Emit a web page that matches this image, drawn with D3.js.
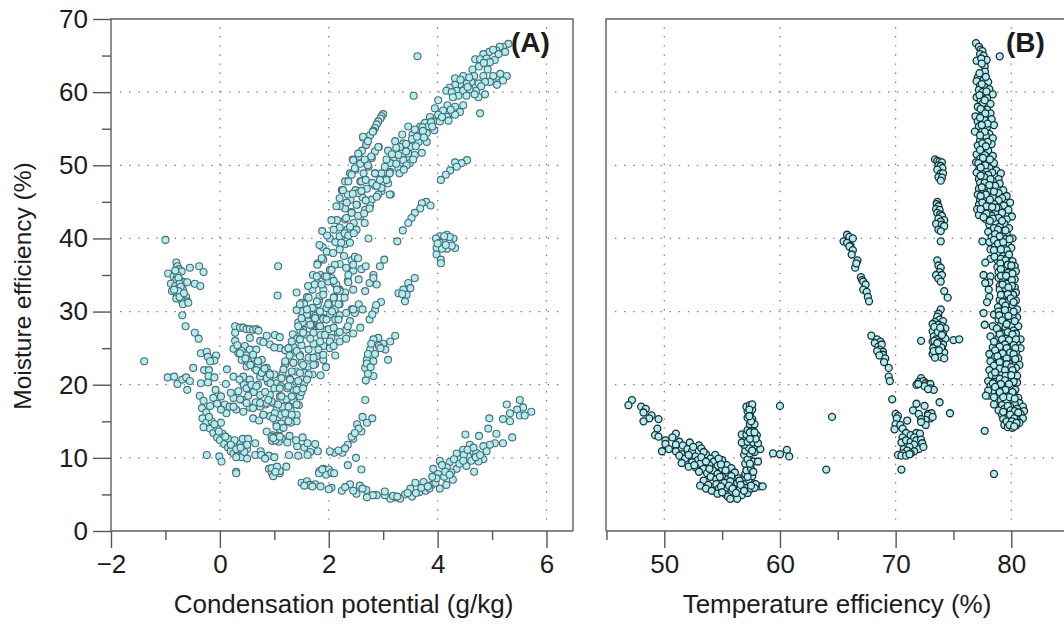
<!DOCTYPE html>
<html lang="en">
<head>
<meta charset="utf-8">
<script src="https://d3js.org/d3.v7.min.js"></script>
<style>
  body { margin: 0; background: #fff; }
  text { font-family: "Liberation Sans", Arial, sans-serif; fill: #1c1c1c; }
</style>
</head>
<body>
<svg width="1064" height="624"></svg>
<script>
// panel A: [condensation potential, moisture efficiency]
const topBandA = [[5.3,66.6],[5.2,66.2],[5.14,66.2],[5.08,65.7],[5.24,65.5],[4.95,65.5],[4.84,65.2],[5.02,65.8],[4.69,64.5],[4.78,64.5],[4.9,64.6],[5.05,64.4],[4.96,64.1],[4.64,63.1],[4.76,63.5],[4.92,63.1],[5.27,62.2],[5.08,62.1],[5.02,62.2],[5.2,61.6],[4.84,62.2],[4.67,62.2],[4.47,62.2],[4.32,61.9],[5.09,61],[4.96,61.4],[4.87,61.4],[4.75,61.2],[4.62,61.4],[4.53,61.2],[4.41,61.1],[4.32,61],[4.22,60.6],[4.16,60.2],[4.35,60.2],[4.47,60.2],[4.59,60.4],[4.71,60.2],[4.87,59.7],[4.75,59.3],[4.53,59.5],[4.38,59.5],[4.26,60],[4.78,57.1],[3.63,64.9],[3.56,59.5],[4.42,61.7],[4.55,60.7],[4.8,60.8],[4.28,59.3],[4.68,59.7],[5.15,62.5],[5.12,65.2],[4.85,64],[4.58,62]];
const midBandA = [[4.01,58.9],[4.18,58.2],[4.32,58],[4.47,58.2],[4.41,57.3],[4.26,57.1],[4.1,57.5],[3.95,57.8],[4.01,56.9],[4.17,56.6],[4.32,56.9],[3.86,56.6],[3.77,55.8],[3.92,56],[4.04,56],[4.2,56.1],[3.68,55.3],[3.83,55.3],[3.94,54.8],[3.46,55.3],[3.54,54.2],[3.68,54.1],[3.8,54.4],[3.35,54.2],[3.22,53.3],[3.65,53.2],[3.8,53.2],[3.37,53],[3.5,52.5],[3.31,52.5],[3.09,52],[3.28,51.4],[3.46,51.6],[3.58,51.4],[3.71,51.7],[3.19,50.7],[3.37,50.7],[3.49,50.3],[3.13,50.3],[3.28,49.6],[3.43,50],[3.3,48.9],[3.03,49.8],[2.97,48.9],[3.13,49.1],[3.6,52.6],[3.88,55.9],[3.72,55.2],[3.58,54.9],[3.24,52.4],[3.42,51.9],[3.53,53.6],[3.73,54.7],[3.9,55.3],[4.08,56.6],[4.24,57.6],[3.62,53.9],[3.42,52.9],[3.16,51.5],[3.24,50.2],[3.38,49.4],[3.06,50.8],[3.75,53.8],[3.55,50.8]];
const strandsA = [[3,57],[2.97,56.7],[2.95,56.4],[2.91,56],[2.88,55.6],[2.85,55.1],[2.82,54.7],[2.76,54.1],[2.63,53.8],[2.69,52.8],[2.61,52],[2.44,50.8],[2.55,51.2],[2.49,49.4],[2.39,48.9],[2.3,47.8],[2.24,46.6],[2.92,52.5],[2.85,51.9],[2.79,51],[2.73,49.8],[2.64,48.9],[2.58,47.8],[2.49,46.6],[2.4,45.3],[2.3,44.1],[2.85,48.9],[3.06,48.2],[3.09,47.5],[3.14,46],[2.97,46.5],[2.85,47.2],[2.91,46],[2.79,45.3],[2.67,43.9],[2.58,43],[2.46,42.1],[2.34,41.2],[2.24,40.3],[2.7,46.8],[2.62,45.6],[2.52,44.6],[2.42,43.6],[2.3,42.6],[2.2,41.5],[2.76,44.5],[2.68,45.2],[2.35,46],[2.2,44.4],[2.15,42.5],[2.09,41.2],[2.02,40],[1.89,38.8],[1.96,38.2],[1.9,37.1],[1.8,36.6],[2.02,35.7],[1.85,35],[1.79,33.9],[1.07,36.2],[1.7,33],[1.9,33],[2.05,34.6],[2.11,33.8],[2.2,38.5],[2.3,39.2],[2.73,40],[2.12,39.5],[2.28,37.6],[2.42,37],[2.2,36.5],[2.32,36],[2.45,35.6],[2.6,35.8],[2.68,36.2],[2.55,34.4],[2.35,34.2],[2.2,33],[2.1,32],[2.3,32.6],[2.45,33],[2.0,31.2],[2.2,31],[2.02,29.6],[1.82,31.5],[1.6,32],[1.41,32.6],[1.06,32.2],[1.83,39.1],[1.88,41],[1.97,40.4],[2.05,42.5],[2.14,44.4],[2.2,45.5],[2.26,46.6],[2.36,47.8],[2.42,48.7],[2.48,49.6],[2.45,50.7],[2.63,53.9],[2.81,54.6],[2.69,52.8],[2.54,51.6],[2.2,40.3],[2.29,40.7],[2.32,42.8],[2.42,43.5],[2.51,44.6],[2.54,46.2],[2.6,47.8],[2.72,50],[2.78,51.2],[2.91,52.5],[2.23,39.4],[2.39,39.4],[2.51,41.2],[2.39,41.6],[2.66,42.1],[2.75,44.1],[2.88,45.7],[2.97,46.9],[3.12,46],[3.06,48],[2.85,48.9],[3.12,48.9],[2.08,38],[1.87,37.3],[1.79,36.4],[1.71,35],[1.74,33.7],[1.62,33.5],[2.48,37.5],[2.54,37.3],[2.11,36.4],[2.45,36.4],[2.05,35.7],[2.36,35],[1.93,34.8],[1.99,34.1],[2.14,33.7],[2.36,34],[2.2,32.8],[2.29,31.9],[1.83,32.1],[2.02,30.7],[2.11,30.3],[2.42,30.3],[2.48,29.8],[2.39,28.7],[2.32,27.5],[2.17,27.1],[1.5,31.2],[1.5,30],[1.44,28.5],[1.62,28.7],[1.8,31],[1.71,29.6],[1.9,29.1],[1.77,28],[1.96,27.5],[1.53,27.5],[1.34,26.9],[2.33,44.9],[2.44,46.1],[2.54,43.1],[2.36,40.4],[2.46,40.7],[2.6,46.5],[2.68,48],[2.8,47.6],[2.65,43.4],[2.88,47.2],[2.94,48],[2.58,50.2],[2.66,50.8],[2.72,53.3]];
const sideClustersA = [[4.54,50.7],[4.44,50.3],[4.32,50.4],[4.35,49.8],[4.23,49.3],[4.15,48.7],[4.06,48],[3.79,45],[3.87,44.5],[3.71,44.8],[3.68,44.1],[3.58,43.5],[3.52,42.8],[3.46,42.1],[3.36,41.1],[3.26,39.6],[4.17,40.5],[4.04,40.3],[3.97,40],[4.29,40],[4.1,39.6],[4.22,39.4],[4.04,39.4],[4.32,38.7],[3.98,38.7],[4.17,38.6],[4.08,38.6],[3.98,37.8],[4.06,37.1],[4.06,36.6],[3.02,37.1],[2.94,36.2],[2.82,35],[3.58,34.6],[3.46,33.9],[3.5,33.2],[3.37,33],[3.28,32.5],[3.43,32.3],[3.35,32.4],[3.4,31.4],[2.88,33.7],[2.75,33.9],[2.82,34.6],[2.67,32.8],[3.22,26.7],[3.13,25.9],[3,25.6],[2.91,26.4],[2.82,26.2],[3.04,24.8],[2.76,24.8],[2.85,24.2],[2.7,23.4],[2.82,23.2],[2.67,22.3],[2.82,21.2],[2.68,20.6],[3.09,23.4],[2.67,17.9],[2.92,25.3],[2.78,25.6],[2.72,24.2],[2.95,25],[2.7,22.9],[2.77,22.4],[2.72,21.5],[4.22,40.2],[4.12,40.3],[4.26,39],[4.15,39.1],[4,39.3]];
const lowerArcA = [[5.72,16.3],[5.51,17.9],[5.57,16.9],[5.27,17.3],[5.33,16.1],[5.46,16.6],[5.51,15.8],[5.6,15.8],[5.2,15.3],[5.33,15],[4.95,15.4],[4.93,14],[5.08,13.3],[5.37,12.8],[4.51,13.2],[4.76,13],[5.2,12],[5.05,12],[4.96,11.8],[4.84,11.6],[4.9,10.9],[4.71,10.7],[4.59,11.8],[4.47,11.1],[4.35,10.6],[4.56,10.2],[4.41,9.8],[4.22,9.4],[4.04,9.6],[3.92,8.5],[4.01,7.8],[4.17,8.7],[4.35,8.5],[4.53,8.9],[4.67,8.1],[4.84,9.8],[4.75,9.5],[4.28,7],[4.16,6.3],[4.04,5.8],[3.89,6.3],[3.74,6.7],[3.59,6.6],[3.5,5.8],[3.53,4.7],[3.66,5.3],[3.78,5.5],[3.4,5],[3.31,4.4],[3.22,4.6],[3.13,4.4],[3.03,4.9],[3.03,5.4],[2.88,4.9],[2.81,4.9],[2.7,4.6],[2.69,5.6],[2.51,5.1],[2.57,6.2],[2.39,6.4],[2.24,5.5],[2.6,8.4],[2.07,7.9],[2.3,6],[2.45,5.5],[2.62,5.8],[3.18,4.8],[3.26,4.7],[3.6,5.2],[3.7,5.9],[3.85,5.8],[3.96,6.6],[4.12,7.4],[4.25,8],[4.4,9.2],[4.62,9.6],[4.7,10.1],[4.48,10.4],[4.3,9.8],[4.14,8.1],[4.08,9],[4.47,9.6],[4.55,11.1],[4.66,11.4],[4.78,10.4],[3.98,7.2],[4.22,7.7],[3.45,5.2],[3.82,6.1],[3.9,7.4]];
const lowLoopsA = [[1.83,8.2],[1.9,8.5],[2,8.4],[1.82,7.9],[1.95,7.7],[2.05,8],[1.88,8.4],[2.1,7.9],[1.5,6.6],[1.6,6.8],[1.75,6.4],[1.85,6.1],[1.65,6.3],[1.55,6.2],[1.7,6.1],[2.05,5.9],[2.0,5.7],[0.3,8.1],[0.9,8.5],[0.95,8],[1.0,8.4],[1.1,7.9],[0.98,7.5],[1.1,8.2],[0.95,8.6],[1.05,8.8],[1.22,8.8],[1.02,8.1],[2.35,9],[2.5,10],[2.1,10.7],[2.25,10.7],[2.35,11.8],[2.45,12.6],[2.6,13.6],[2.7,14.8],[2.8,15.4],[2.62,15.6],[2.52,14.6],[2.42,12.9],[2.18,11],[2.02,10.9],[2.55,14],[2.48,13.4],[2.3,11.3]];
const lowerLeftA = [[-0.37,18.5],[-0.3,17.8],[-0.33,16.8],[-0.25,16.2],[-0.32,15.4],[-0.25,14.8],[-0.3,14.2],[-0.18,14],[-0.12,13.4],[-0.05,12.8],[0,12.4],[0.08,11.9],[0.15,11.4],[0.2,10.9],[0.25,10.6],[0.32,10.3],[0.4,10.1],[0.5,11.2],[0.45,10.8],[0.35,11.9],[0.25,12],[0.15,12.6],[0.05,13.3],[-0.05,14],[-0.15,15],[0.02,14.8],[0.27,12.4],[0.42,12.6],[0.52,12.6],[0.5,11.8],[0.65,12],[0.65,10.4],[0.75,10.9],[0.5,9.9],[0.3,10.1],[-0.24,10.4],[-0.01,10.2],[0.03,9.5],[0.3,7.9],[0.76,10.4],[0.9,10.3],[1.0,10.1],[0.83,9.9],[-0.2,15.6],[-0.1,14.6],[-0.02,13.6],[0.1,12.9],[0.2,11.8],[0.3,11.2],[0.38,11.4]];
const leftBlobA = [[-1,39.8],[-0.8,36.7],[-0.78,36.2],[-0.75,35.8],[-0.7,35.5],[-0.95,35.2],[-0.85,34.8],[-0.8,34.4],[-0.72,34.2],[-0.65,34],[-0.9,33.8],[-0.82,33.5],[-0.75,33.2],[-0.68,33],[-0.88,32.8],[-0.78,32.4],[-0.7,32.2],[-0.62,32],[-0.8,31.8],[-0.7,31.5],[-0.6,31.4],[-0.68,31],[-0.58,31.2],[-0.55,36],[-0.38,36.2],[-0.3,35.4],[-0.6,34],[-0.46,33.8],[-0.36,33.5],[-0.69,29.5],[-0.63,28],[-0.46,27.1],[-0.39,26.3],[-1.39,23.2],[-0.96,21],[-0.84,21.1],[-0.78,20.1],[-0.69,20.7],[-0.62,21],[-0.6,19.3],[-0.55,20.5],[-0.49,22.3],[-0.35,20.2],[-0.35,24.3],[-0.24,24.5],[-0.22,23.8],[-0.07,24],[-0.1,23.3],[-0.29,22],[-0.2,22],[-0.21,21.2],[-0.1,21],[-0.22,20.3],[-0.08,19.3],[-0.18,23.2],[-0.78,35],[-0.76,34.6],[-0.74,33.8],[-0.72,33.4],[-0.76,32.8],[-0.74,32],[-0.84,33],[-0.66,32.5],[-0.82,35.6]];
const centreA = [[0.28,28],[0.37,27.8],[0.43,27.8],[0.49,27.6],[0.55,27.6],[0.61,27.5],[0.67,27.6],[0.71,27.4],[0.28,27.1],[0.55,26.4],[0.28,26],[0.25,24.9],[0.46,25.3],[0.34,24.3],[0.55,24.8],[0.67,24.8],[0.4,23.4],[0.61,23.7],[0.77,23.4],[0.49,22.5],[0.64,22.3],[0.86,22.3],[0.43,21.1],[0.25,21.1],[0.13,22.1],[0.11,20.1],[0.55,20.7],[0.74,21.1],[0.92,21.1],[1.04,20.2],[0.55,19.5],[0.34,19.1],[0.25,18.2],[0.74,18.6],[0.92,18.6],[0.09,17.3],[0.43,17.9],[0.12,16.1],[0.43,16.3],[0.61,15.4],[0.74,17],[0.92,15.7],[1.04,14.7],[1.17,15.2],[1.41,15.9],[1.41,15],[1.23,16.6],[1.47,18.4],[1.29,17.6],[1.04,16.6],[0.86,13.6],[0.32,25.4],[0.4,24.6],[0.48,24],[0.52,23.1],[0.7,22.6],[0.8,21.9],[0.9,21.6],[1,21.4],[0.88,20.4],[0.7,20],[0.62,19],[0.44,20],[0.36,20.7],[0.2,18.9],[0.02,18.4],[-0.12,18.2],[-0.05,17.4],[-0.18,17.1],[0.02,16.6],[0.18,17],[0.3,16.6],[0.55,16.9],[0.66,17.6],[0.84,17.3],[0.98,17.5],[0.8,15.9],[0.72,15.1],[1.12,15.9],[1.3,14.8],[1.1,13.9],[0.97,13.1],[1.06,13],[1.14,12.6],[1.08,12.2],[0.96,12.3],[1.0,12.7],[1.24,12.1],[1.28,13],[1.42,11.6],[1.55,11.4],[1.66,10.8],[1.8,10.9],[1.61,12],[1.75,11.9],[1.4,12.4],[1.52,12.8],[1.61,10.4],[1.27,10.4],[1.44,10.3],[0.74,26],[0.86,26.7],[1.01,26.8],[1.1,26.5],[0.92,25.5],[1.1,25],[1.29,24.3],[1.47,24.1],[1.63,23.7],[1.78,23.9],[2.02,25],[2.2,25.9],[0.8,25.8],[1,25.1],[1.2,24.7],[1.38,24.4],[0.74,17.5],[0.61,16.8],[0.49,17.5],[0.37,18],[0.25,17],[0.86,17.5],[0.95,17.7],[0.8,15.9],[0.67,22],[0.77,21.6],[0.86,20.9],[0.93,20.2],[1,19.5],[0.56,22.7],[0.47,23.6],[0.37,24.3],[0.61,24.1],[0.7,23.2],[0.82,22.2],[0.92,21.4],[0.49,19.5],[0.58,20],[0.67,19.8],[0.52,18.5],[0.83,19],[0.89,17.9],[0.95,12.9],[1.02,12.4],[1.1,12.9]];
const massA = [[1.15,21.5],[1.2,22.8],[1.28,24],[1.35,25.2],[1.42,26.3],[1.48,27.4],[1.52,28.5],[1.6,29.6],[1.41,30.2],[1.55,31],[1.7,30.5],[1.75,29.4],[1.68,28.1],[1.82,28],[1.9,29],[1.96,30.5],[1.85,26.8],[2.0,27.6],[2.12,28.9],[2.2,29.5],[2.32,29.8],[1.6,26.8],[1.72,25.6],[1.5,25.4],[1.35,23],[1.5,23],[1.62,22.5],[1.75,22.8],[1.9,23.4],[1.4,21.8],[1.55,21.6],[1.7,21.4],[1.28,20.8],[1.4,20.4],[1.55,20.2],[1.12,19.8],[1.24,19.5],[1.36,19.2],[1.5,19],[1.1,18.4],[1.22,18],[1.35,17.8],[1.45,17.2],[1.15,17],[1.3,16.5],[1.9,25.3],[2.05,26.4],[2.2,27.2],[2.35,28],[2.45,30.3],[2.55,31],[2.62,30.3],[2.32,26.3],[2.45,27],[2.58,27.8],[2.12,24],[1.95,22.4],[1.85,21.3],[2.75,28.9],[2.85,30.2],[2.96,31.3],[2.87,30.9],[2.8,29.6],[1.78,34.8],[1.96,34.8],[2.09,34.2],[1.87,33.7],[2.15,33],[1.9,32.3],[2.09,31.9],[1.63,31.9],[1.78,31.4],[1.47,31],[1.99,31],[2.18,31],[1.6,30.3],[1.84,30],[2.06,30],[1.5,29.1],[1.75,29.1],[1.96,28.9],[2.18,28.9],[1.44,28],[1.66,28.2],[1.84,28],[2.09,27.8],[1.53,27.1],[1.72,27.1],[1.93,26.8],[1.32,25.9],[1.47,26.2],[1.66,26.3],[1.84,25.9],[2.02,25.9],[1.26,25],[1.41,24.6],[1.63,24.8],[1.81,24.8],[2.09,25.3],[1.47,23.9],[1.72,23.7],[1.9,24.1],[1.2,23.2],[1.35,23],[1.53,22.7],[1.72,22.7],[1.17,22.1],[1.32,21.8],[1.47,21.6],[1.63,21.4],[1.13,20.9],[1.29,20.7],[1.44,20.5],[1.6,20.7],[1.1,19.5],[1.26,19.8],[1.41,19.3],[1.53,19.5],[1.13,18.4],[1.32,18.4],[1.07,17.3],[1.26,17],[1.41,17.3],[1.01,16.1],[1.2,16.1],[1.32,15.9],[0.98,15.4],[1.13,14.7],[1.26,15],[1.04,14.3],[1.17,14.1],[0.98,12.7]];

// panel B: [temperature efficiency, moisture efficiency]
const columnB = [[76.95,66.7],[77.2,66.2],[77.35,65.8],[77.5,65.6],[77.3,65.2],[77.6,65],[77.87,64.4],[79,64.9],[77,64.3],[77.4,64.6],[77.7,63.5],[77.72,62.8],[77.1,62],[77.6,61.6],[77,61.5],[77.3,60.9],[78,61.4],[77.7,60.7],[77.2,60.3],[77.5,60],[78.1,60.4],[78.4,59.7],[77,59.3],[77.9,59.2],[77.35,58.9],[78.2,58.4],[77.55,58.5],[77.1,58],[77.9,57.6],[77.5,57.5],[78.2,57.1],[76.9,56.7],[77.5,56.9],[77.1,56],[77.7,56.2],[78.3,56.3],[78.5,55.5],[77.2,55.3],[77.9,55.2],[76.85,54.6],[77.5,54.7],[78.1,54.3],[77.8,54],[78.4,53.7],[77.3,53.4],[78.3,52.9],[77.1,52.7],[77.6,52.2],[78.0,52],[77,51.5],[77.7,51.4],[78.4,51.3],[77.3,50.9],[77.9,50.7],[78.5,50.3],[76.95,50.4],[77.5,50.2],[78.1,49.6],[77.2,49.4],[78.7,49.3],[77.8,49.2],[78.35,49],[77,49],[77.5,48.8],[79.1,48.9],[78.9,48.1],[77.2,48.1],[77.85,48.1],[78.4,47.8],[79,47.5],[77.3,47.6],[78.6,47.2],[77.9,47],[77.2,46.8],[79.3,46.6],[78.2,46.6],[77.55,46.4],[78.9,46.2],[77.1,46],[79.6,45.8],[78.4,45.6],[77.7,45.5],[79.2,45.5],[77.3,45.2],[78.9,45.2],[79.9,44.9],[78,44.8],[77.2,44.6],[78.5,44.7],[79.35,44.5],[77.6,44.3],[78.9,44.1],[77.05,44],[79.75,43.9],[78.1,43.9],[78.6,43.5],[79.2,43.5],[77.5,43.4],[77.2,43.2],[80.05,43],[78.3,43.1],[78.9,42.8],[79.6,42.6],[77.8,42.6],[78.6,42.1],[79.4,42],[78.1,41.9],[79,41.6],[79.8,41.4],[78.5,41.4],[79.2,41],[78,40.9],[79.6,40.6],[78.8,40.6],[80.1,40],[79.3,40.2],[78.3,40.2],[77.5,39.6],[78.1,39.5],[79,39.5],[79.7,39.3],[78.6,39],[79.3,38.9],[80,38.7],[78.2,38.5],[79.6,38.4],[78.9,38],[79.3,37.6],[78.2,37.2],[79.6,37.3],[77.75,36.7],[78.8,37],[80.1,36.9],[79.3,36.4],[80.3,36.2],[78.8,36.1],[79.5,36],[79.9,35.6],[78.9,35.4],[79.3,35],[80.4,35.5],[78.9,34.6],[79.8,34.8],[80.3,34.4],[79.3,34.2],[77.6,35],[78.2,34.8],[78.1,34],[77.75,33.9],[78.05,33],[79,33.5],[79.6,33.8],[80.3,33.3],[79,33],[79.9,32.8],[80.4,32.6],[79.4,32.3],[78.1,32],[77.9,31.3],[80.4,31.5],[79,31.6],[79.7,31.3],[79.3,30.7],[80.1,30.8],[78.85,30.6],[80.5,30.3],[79.8,30.1],[79.1,30],[77.6,29.8],[78.5,29.6],[80.5,29.2],[79.5,29.4],[80.1,29.4],[78.9,28.9],[79.8,28.6],[77.7,28.2],[78.4,28],[79.1,28.1],[80,28],[80.6,28],[79.5,27.8],[78.9,27.4],[80.2,27.4],[79.3,27],[80.4,27],[79.85,26.8],[78.2,26.6],[78.9,26.4],[79.5,26.3],[80.15,26.3],[80.8,26.2],[79.1,25.7],[79.7,25.7],[78.7,25.6],[80.5,25.6],[80,25.1],[78.4,25.1],[79.2,25],[80.8,25],[78.9,24.6],[79.6,24.4],[80.4,24.4],[78.1,24.2],[79.1,24],[80,23.9],[78.6,23.8],[80.6,23.6],[79.4,23.4],[78.2,23.2],[78.9,23.2],[80.2,23],[79.8,22.9],[80.7,22.7],[78.5,22.6],[79.2,22.5],[80.4,22.3],[78.1,22],[79.7,22],[78.85,21.9],[80.2,21.6],[79.2,21.5],[78.3,21.3],[80.5,21.2],[78.7,21],[79.7,20.9],[80,20.6],[79.2,20.6],[78,20.5],[78.6,20.4],[80.5,20.3],[79.5,20],[78.2,19.8],[80,19.7],[78.8,19.5],[79.25,19.4],[80.35,19.3],[78.4,19.1],[79.7,18.9],[80.2,18.7],[78.1,18.5],[78.9,18.6],[79.5,18.5],[78.5,18.3],[80.6,18.2],[79.1,17.9],[80,17.9],[79.6,17.6],[80.7,17.5],[80.3,17.3],[79.2,17.2],[78.5,17.3],[79.9,17],[81,17],[80.5,16.7],[79.4,16.7],[78.9,16.5],[81.1,16.4],[80.1,16.3],[79.7,16.1],[80.8,16],[79.2,15.9],[80.4,15.8],[80,15.5],[79.6,15.4],[81,15.4],[79.3,15.3],[80.5,15.2],[79.8,14.9],[80.2,14.9],[79.5,14.8],[80.7,14.8],[79.4,14.5],[80,14.4],[80.4,14.4],[79.7,14.2],[80.1,14.1],[77.7,13.7],[78.5,7.8],[78,19.2],[77.8,18.5]];
const columnFillB = [[77.45,63.9],[77.25,62.6],[77.8,62.1],[77.45,61.1],[77.85,60.1],[77.25,59.6],[77.7,58.9],[77.35,57.7],[77.75,57.1],[77.3,56.5],[77.95,55.7],[77.45,55.5],[77.7,54.6],[77.3,54.1],[77.95,53.2],[77.5,53],[77.8,52.6],[77.3,52.1],[77.55,51],[78.15,50.8],[77.15,50.3],[77.75,50],[77.35,49.7],[78,48.7],[77.65,48.4],[77.35,48.6],[78.2,48.1],[77.7,47.6],[78.1,47.3],[77.45,47],[78.5,46.4],[77.8,46],[77.35,45.8],[78.15,45.3],[77.5,44.9],[78.7,44.2],[77.85,44.4],[78.35,44.3],[77.35,44],[77.85,43.4],[78.4,42.7],[77.6,42.9],[78.15,42.4],[79.2,42.4],[78.85,41.2],[79.5,41.1],[78.6,40.6],[79,40.3],[79.55,39.9],[78.5,39.8],[78.85,39.3],[79.3,39.5],[79.85,39.9],[78.5,38.4],[79.1,38.5],[79.8,37.8],[78.55,37.5],[79.1,37.2],[79.5,37],[79.05,36.6],[79.7,36.4],[80,36.3],[79.1,35.8],[79.7,35.3],[80.1,35.2],[79.1,34.9],[79.55,34.9],[80.05,34.3],[79.5,33.2],[79.25,33.7],[80.05,33.5],[79.75,33.3],[80.15,32.3],[79.1,32.3],[79.7,32.4],[79.95,31.8],[79.25,31.3],[80.2,31.3],[79.5,30.8],[78.9,30],[79.45,30.2],[80.2,30],[78.95,29.5],[79.75,29.4],[79.2,28.8],[80.3,28.7],[79.6,28.3],[78.75,27.7],[79.7,27.2],[79,26.9],[80.1,26.9],[79.2,26.2],[79.8,26.1],[80.4,26.2],[78.5,25.9],[79.45,25.5],[80.2,25.4],[79,25.2],[79.6,25],[80.35,25],[78.6,24.7],[79.25,24.3],[79.9,24.4],[80.2,24.2],[78.8,23.9],[79.6,23.6],[80.35,23.5],[79,23.1],[79.6,22.8],[80,22.4],[79,22.2],[79.45,22],[80.1,22],[78.6,21.7],[79.5,21.2],[80,21.3],[79,20.8],[79.45,20.6],[80.2,20.4],[78.4,20.2],[79.1,20.1],[79.8,20.1],[78.6,19.7],[79.5,19.3],[80.1,19],[79,19],[79.85,18.3],[79.3,18.3],[80.3,18.1],[79.7,17.1],[79.95,16.5],[79.3,16.3],[80.3,16.4],[80.6,16.2],[79.9,15.9],[80.25,15.4],[79.6,15],[80.05,15],[80.45,14.8],[79.85,14.5],[80.25,14.3]];
const stackB = [[73.4,50.8],[73.6,50.6],[73.8,50.5],[74,50.4],[73.7,50],[73.9,49.9],[74.05,49.6],[73.6,49.4],[73.9,48.9],[74.1,48.9],[73.7,48.4],[74,48.3],[73.9,47.9],[73.6,45],[73.55,44.7],[73.7,44.4],[73.5,44],[73.8,43.9],[73.6,43.5],[73.85,43.3],[74,43.1],[73.7,42.7],[74.2,42.5],[73.9,42.3],[73.5,42],[74,41.9],[74.2,41.7],[73.7,41.2],[73.9,41],[73.9,39.6],[73.6,37],[73.7,36.3],[73.9,36],[73.8,35.4],[73.5,35],[74,35],[73.7,34.5],[73.9,34.1],[74.2,32.8],[74.5,31.9],[73.9,30.3],[73.7,29.7],[73.6,29.3],[73.8,28.9],[73.4,28.6],[74.1,28.7],[73.2,28.3],[73.7,28.2],[74,28],[74.3,27.7],[73.5,27.6],[73.9,27.4],[73.2,27.3],[74.1,27],[73.6,26.9],[73.3,26.6],[73.95,26.4],[74.3,26.3],[73.5,26.2],[73.2,25.9],[73.8,25.8],[74.1,25.5],[73.4,25.4],[73.7,25.2],[73.25,25],[74,24.9],[73.5,24.6],[73.9,24.4],[73.2,24.2],[74.2,24.4],[73.6,24],[73.9,23.8],[73.4,23.7],[74.2,23.6],[72.2,26],[75,26.1],[75.5,26.2],[73.35,27.9],[73.65,27.2],[73.35,26],[73.95,25.1],[73.6,25.7],[73.3,24.6],[73.75,24.7],[74,26.8],[73.85,27.8]];
const islandsB = [[65.8,40.5],[65.5,39.6],[66,40.2],[66.3,40],[65.8,39.4],[66.1,39],[66,38.9],[66.3,38.4],[66.2,37.8],[66.7,37],[66.5,36],[66.6,36.6],[67,34.7],[67.1,34.3],[67.2,34.1],[67.4,33.7],[67.2,33],[67.5,32.7],[67.6,32],[67.7,31.4],[67.9,26.7],[68.4,26.2],[68.7,25.9],[68.2,25.7],[68.5,25.2],[68.8,25.5],[68.6,24.8],[68.9,24.5],[68.4,24.6],[68.9,24.1],[68.6,24],[69.1,23.6],[69,23.1],[69.4,22.3],[69.4,21.1],[69.5,20.5],[72.2,20.9],[71.8,20],[72,20.4],[72.4,20.5],[72.6,20.2],[72.8,20],[73,20.1],[72.5,19.8],[73,19.5],[73.3,19.3],[72.8,19.4],[71.95,20.1],[69.7,18],[73.8,17.6],[74.7,16.1],[71.8,17.4],[72.5,17.1],[71.5,16.5],[72,16],[72.8,16],[73.1,16.1],[73,15.4],[72.8,15.8],[72.6,15.2],[72.2,15.3],[72.6,14.5],[72.2,14.9],[73.2,15.6]];
const lowClusterB = [[70,16],[70.2,15.7],[70.1,15.4],[70,14.6],[71,15.1],[70.4,14.5],[70.6,14],[69.9,13.9],[70.9,13.4],[71.3,13.1],[71.8,13.4],[72.1,13.3],[70.6,12.8],[70.5,12.1],[70.9,12.4],[71.3,12.2],[71.6,12.8],[71.8,12.4],[72.2,12.5],[72.3,12],[71.6,11.8],[71.2,11.5],[70.7,11.2],[71,11],[72,11.2],[72.4,11.5],[71.6,10.9],[71.3,10.6],[70.6,10.6],[70.2,10.4],[70.5,10.3],[70.9,10.3],[71.2,10.5],[70.5,8.4]];
const vShapeB = [[47.2,17.9],[46.9,17.2],[48,17],[48.4,16.7],[48.2,16.2],[48.9,15.8],[48.7,15.4],[49.5,15.3],[48.2,15],[49.4,14],[49.2,13.1],[51,13.3],[49.5,12.9],[50.1,12.4],[50.7,12.8],[51.3,12.2],[50.1,11.9],[51,11.8],[51.6,11.7],[52.2,12.1],[53,11.7],[53.2,11.3],[52,11.2],[50.4,11.2],[49.8,10.9],[51,10.9],[51.5,10.5],[52.4,10.9],[52.7,10.2],[53.6,10.5],[54.4,10.4],[54,9.9],[51.3,10.3],[51.8,9.9],[52.9,9.7],[54.3,9.5],[55,9.7],[55.4,9],[51.5,9.3],[52.4,9.4],[53.1,9.2],[53.9,9],[54.6,8.9],[52.1,8.8],[52.7,8.7],[53.4,8.5],[54.2,8.3],[55,8.5],[55.8,8.6],[53,8.1],[53.7,7.9],[54.6,7.8],[55.4,7.9],[56.1,8],[54,7.4],[54.5,7.1],[55,7.4],[55.5,7.1],[53.4,6.9],[53.1,6.2],[53.8,6.3],[54.5,6.4],[55.2,6.6],[56,6.1],[56.3,6.6],[53.6,5.8],[54.1,5.5],[54.7,5.8],[55.3,5.8],[55.8,5.4],[56.5,5.6],[57,6],[54.6,5.1],[55.3,5],[55.5,4.7],[56.1,4.6],[56.7,4.9],[57.2,5.2],[55.7,4.4],[56.3,4.4],[58.2,6.1],[58.5,6.1],[57.7,6.5],[57.1,6.8],[57.9,6.4],[57.3,7],[56.8,7.3],[57,7.8],[57.3,7.7],[57.6,7.5],[56.4,7.2],[57.1,8.3],[57.5,8.5],[56.5,6.9],[57,9.2],[56.9,10.4],[57.7,9.5],[57.2,9.8],[57.4,10.6],[57,11],[58.1,9.5],[57.8,10.8],[58.3,11.2],[57.3,11.4],[56.9,11.8],[56.7,12.1],[57.2,12.2],[57.7,12.1],[58.1,12],[56.7,13.2],[57.1,13.2],[57.5,13],[58,13.1],[57.2,13.8],[57.6,14],[57.4,14.6],[57.8,14.6],[57.6,15.3],[57.2,15.5],[57.4,16],[57.2,16.4],[57.6,16.6],[57.1,17],[57.4,17.2],[57.6,17.3],[60,17.1],[59.4,10.6],[60,10.5],[60.6,11.1],[60.8,10.2],[64,8.4],[64.5,15.6],[52.5,11.5],[53.4,10.8],[52.1,10.4],[53.2,10.1],[54.7,9.9],[53.6,9.5],[52.6,9],[54.9,9.1],[53.9,8.5],[55.3,8.3],[54.8,7.4],[55.8,7.5],[55.7,6.8],[54.9,6.1],[55.6,6.2],[56.6,6.3],[55.9,5.8],[56.2,5.2],[55,5.3],[56.9,5.5],[57.5,5.8],[57.8,5.9],[57.5,6.2],[57.2,7.4],[57.7,8.1],[57.4,9.2],[57.6,11],[57.9,12.6],[57.4,12.6],[57.4,13.5],[57.8,13.5],[57.5,15],[57.35,16.6],[57.35,15.7]];

const xTicksA = [-2, 0, 2, 4, 6];
const xMinorA = [-1, 1, 3, 5];
const xTicksB = [50, 60, 70, 80];
const xMinorB = [45, 55, 65, 75];
const yTicks = [0, 10, 20, 30, 40, 50, 60, 70];
const yMinor = [5, 15, 25, 35, 45, 55, 65];
const yGrid = [10, 20, 30, 40, 50, 60];

const plotTop = 19, plotBottom = 531;
const svg = d3.select("svg");
const y = d3.scaleLinear().domain([0, 70]).range([plotBottom, plotTop]);
const xA = d3.scaleLinear().domain([-2, 6]).range([111, 546.5]);
const xB = d3.scaleLinear().domain([50, 80]).range([664.3, 1011.3]);

function panel(x, left, right, majors, minors, gridX, points, stroke, strokeW, label, labelX, xTitle, titleX, showY) {
    const g = svg.append("g");

    // dotted grid
    g.selectAll(".gx").data(gridX).join("line")
        .attr("x1", d => x(d)).attr("x2", d => x(d))
        .attr("y1", plotTop + 8).attr("y2", plotBottom - 8);
    g.selectAll(".gy").data(yGrid).join("line").attr("class", "gy")
        .attr("x1", left + 9).attr("x2", right - 8)
        .attr("y1", d => y(d)).attr("y2", d => y(d));
    g.selectAll("line").attr("stroke", "#777").attr("stroke-width", 1.2).attr("stroke-dasharray", "1.4 7.7");

    // frame
    g.append("path")
        .attr("d", `M${left},${plotBottom}V${plotTop}H${right}` + (right < 1064 ? `V${plotBottom}` : "") + `M${left},${plotBottom}H${right}`)
        .attr("fill", "none").attr("stroke", "#5f5f5f").attr("stroke-width", 1.4);

    // bottom ticks
    const gx = svg.append("g").attr("transform", `translate(0,${plotBottom})`)
        .call(d3.axisBottom(x).tickValues(majors).tickSize(17).tickPadding(7));
    gx.select(".domain").remove();
    gx.selectAll("line").attr("stroke", "#555").attr("stroke-width", 1.4);
    gx.selectAll("text").attr("font-size", 26).attr("font-family", "Liberation Sans").attr("fill", "#1c1c1c");

    const gxm = svg.append("g").attr("transform", `translate(0,${plotBottom})`)
        .call(d3.axisBottom(x).tickValues(minors).tickSize(9).tickFormat(""));
    gxm.select(".domain").remove();
    gxm.selectAll("line").attr("stroke", "#555").attr("stroke-width", 1.4);

    if (showY) {
        const gy = svg.append("g").attr("transform", `translate(${left},0)`)
            .call(d3.axisLeft(y).tickValues(yTicks).tickSize(18).tickPadding(5));
        gy.select(".domain").remove();
        gy.selectAll("line").attr("stroke", "#555").attr("stroke-width", 1.4);
        gy.selectAll("text").attr("font-size", 26).attr("font-family", "Liberation Sans").attr("fill", "#1c1c1c");
        const gym = svg.append("g").attr("transform", `translate(${left},0)`)
            .call(d3.axisLeft(y).tickValues(yMinor).tickSize(9).tickFormat(""));
        gym.select(".domain").remove();
        gym.selectAll("line").attr("stroke", "#555").attr("stroke-width", 1.4);
    }

    svg.append("g").selectAll("circle").data(points).join("circle")
        .attr("cx", d => x(d[0])).attr("cy", d => y(d[1])).attr("r", 3.5)
        .attr("fill", "#aeeff3").attr("stroke", stroke).attr("stroke-width", strokeW);

    svg.append("text").attr("x", labelX).attr("y", 52).attr("font-size", 28)
        .attr("font-weight", "bold").attr("fill", "#111").text(label);
    svg.append("text").attr("x", titleX).attr("y", 613).attr("font-size", 26)
        .attr("text-anchor", "middle").text(xTitle);
}

const pointsA = [].concat(topBandA, midBandA, strandsA, sideClustersA, lowerArcA, lowLoopsA, lowerLeftA, leftBlobA, centreA, massA);
const pointsB = [].concat(columnB, columnFillB, stackB, islandsB, lowClusterB, vShapeB);

panel(xA, 111, 573, xTicksA, xMinorA, [0, 2, 4, 6], pointsA, "#4d6b70", 1.1, "(A)", 511, "Condensation potential (g/kg)", 343.5, true);
panel(xB, 606, 1064, xTicksB, xMinorB, [50, 60, 70, 80], pointsB, "#1c2e31", 1.3, "(B)", 1006, "Temperature efficiency (%)", 837, false);

svg.append("text").attr("transform", "translate(31,286) rotate(-90)")
    .attr("font-size", 24.5).attr("text-anchor", "middle").text("Moisture efficiency (%)");
</script>
</body>
</html>
